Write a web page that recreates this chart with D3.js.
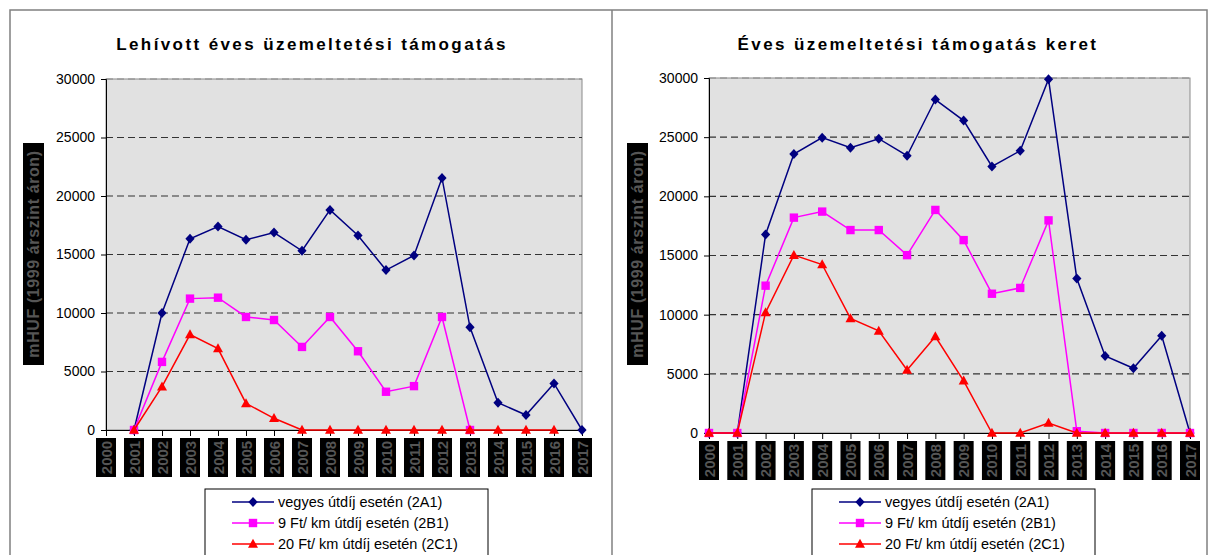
<!DOCTYPE html>
<html>
<head>
<meta charset="utf-8">
<script src="https://d3js.org/d3.v7.min.js"></script>
<style>
  body { margin: 0; background: #fff; }
  text { font-family: "Liberation Sans", Arial, sans-serif; }
</style>
</head>
<body>
<div id="chart"></div>
<script>
// years on the category axis
var years = ["2000","2001","2002","2003","2004","2005","2006","2007","2008",
             "2009","2010","2011","2012","2013","2014","2015","2016","2017"];
var yTicks = [0, 5000, 10000, 15000, 20000, 25000, 30000];

var seriesNames = ["vegyes útdíj esetén (2A1)",
                   "9 Ft/ km útdíj esetén (2B1)",
                   "20 Ft/ km útdíj esetén (2C1)"];

// left: Lehívott éves üzemeltetési támogatás
var leftVegyes = [null,0,10000,16340,17390,16260,16880,15320,18810,16620,13670,14920,21540,8780,2330,1280,3980,0];
var left9Ft    = [null,0,5820,11230,11310,9660,9400,7100,9660,6730,3270,3750,9660,0,null,null,null,null];
var left20Ft   = [null,0,3700,8160,6960,2270,1000,0,0,0,0,0,0,0,0,0,0,null];

// right: Éves üzemeltetési támogatás keret
var rightVegyes = [0,0,16780,23570,24960,24110,24870,23430,28180,26400,22530,23850,29900,13050,6510,5470,8210,0];
var right9Ft    = [0,0,12450,18200,18710,17150,17150,15030,18850,16300,11770,12260,17970,150,0,0,0,0];
var right20Ft   = [0,0,10190,15030,14240,9680,8630,5320,8150,4410,0,0,850,0,0,0,0,0];

var colors = ["#000080", "#FF00FF", "#FF0000"];
var markers = ["diamond", "square", "triangle"];

function start(){
    var svg = d3.select("#chart").append("svg")
        .attr("width", 1209)
        .attr("height", 555);

    // outer frame of the two panels
    svg.append("rect")
        .attr("x", 10).attr("y", 10)
        .attr("width", 1197).attr("height", 560)
        .attr("fill", "none")
        .attr("stroke", "#808080")
        .attr("stroke-width", 1.5);
    svg.append("line")
        .attr("x1", 612).attr("x2", 612)
        .attr("y1", 10).attr("y2", 555)
        .attr("stroke", "#808080")
        .attr("stroke-width", 1.5);

    drawChart(svg, {
        title: "Lehívott éves üzemeltetési támogatás",
        titleX: 312,
        left: 106, right: 582, top: 79, bottom: 430,
        yLabelX: 23,
        legendX: 205,
        data: [leftVegyes, left9Ft, left20Ft]
    });

    drawChart(svg, {
        title: "Éves üzemeltetési támogatás keret",
        titleX: 918,
        left: 709, right: 1190, top: 78, bottom: 433,
        yLabelX: 627,
        legendX: 812,
        data: [rightVegyes, right9Ft, right20Ft]
    });
}

function markerPath(kind){
    if (kind == "diamond") return "M0,-5L4.6,0L0,5L-4.6,0Z";
    if (kind == "square") return "M-4.2,-4.2L4.2,-4.2L4.2,4.2L-4.2,4.2Z";
    return "M0,-5.2L5,3.8L-5,3.8Z";
}

function drawChart(svg, cfg){
    var x = d3.scalePoint()
              .domain(years)
              .range([cfg.left, cfg.right]);
    var y = d3.scaleLinear()
              .domain([0, 30000])
              .range([cfg.bottom, cfg.top]);

    var g = svg.append("g");

    // plot area
    g.append("rect")
        .attr("x", cfg.left).attr("y", cfg.top)
        .attr("width", cfg.right - cfg.left)
        .attr("height", cfg.bottom - cfg.top)
        .attr("fill", "#e1e1e1")
        .attr("stroke", "#8a8a8a")
        .attr("stroke-width", 1);

    // dashed grid lines
    g.selectAll("grid")
        .data(yTicks.filter(d => d > 0))
        .enter()
        .append("line")
        .attr("x1", cfg.left).attr("x2", cfg.right)
        .attr("y1", d => y(d)).attr("y2", d => y(d))
        .attr("stroke", d => d == 30000 ? "#8a8a8a" : "#333")
        .attr("stroke-width", 1.2)
        .attr("stroke-dasharray", "7,4");

    // y axis
    var yAxis = g.append("g")
        .attr("transform", "translate(" + cfg.left + ",0)")
        .call(d3.axisLeft(y).tickValues(yTicks).tickSize(5).tickPadding(6).tickFormat(d3.format("d")));
    yAxis.select(".domain").attr("stroke", "#000");
    yAxis.selectAll("text")
        .style("font-size", "14px")
        .style("font-family", "Liberation Sans, Arial, sans-serif")
        .attr("fill", "#000");

    // x axis
    var xAxis = g.append("g")
        .attr("transform", "translate(0," + cfg.bottom + ")")
        .call(d3.axisBottom(x).tickSize(6).tickSizeOuter(0).tickFormat(""));
    xAxis.select(".domain").attr("stroke", "#000");

    // year labels in dark boxes
    var lab = g.selectAll("xlab")
        .data(years)
        .enter()
        .append("g")
        .attr("transform", d => "translate(" + x(d) + "," + (cfg.bottom + 8) + ")");
    lab.append("rect")
        .attr("x", -10).attr("y", 0)
        .attr("width", 20).attr("height", 39)
        .attr("fill", "#000");
    lab.append("text")
        .attr("transform", "translate(5.5,19.5) rotate(-90)")
        .attr("text-anchor", "middle")
        .attr("fill", "#555")
        .style("font-size", "15px")
        .style("font-weight", "bold")
        .text(d => d);

    // y label box
    var yl = g.append("g")
        .attr("transform", "translate(" + cfg.yLabelX + ",143)");
    yl.append("rect")
        .attr("width", 21).attr("height", 222)
        .attr("fill", "#000");
    yl.append("text")
        .attr("transform", "translate(16,111) rotate(-90)")
        .attr("text-anchor", "middle")
        .attr("fill", "#555")
        .style("font-size", "16px")
        .style("font-weight", "bold")
        .style("letter-spacing", "0.6px")
        .text("mHUF (1999 árszint áron)");

    // title
    g.append("text")
        .attr("x", cfg.titleX)
        .attr("y", 50)
        .attr("text-anchor", "middle")
        .style("font-size", "17px")
        .style("font-weight", "bold")
        .style("letter-spacing", "2.4px")
        .text(cfg.title);

    // lines and markers
    var line = d3.line()
        .defined(d => d != null)
        .x((d, i) => x(years[i]))
        .y(d => y(d));

    cfg.data.forEach(function(vals, s){
        g.append("path")
            .datum(vals)
            .attr("fill", "none")
            .attr("stroke", colors[s])
            .attr("stroke-width", 1.5)
            .attr("d", line);

        g.selectAll("pt" + s)
            .data(vals.map((v, i) => [years[i], v]).filter(d => d[1] != null))
            .enter()
            .append("path")
            .attr("transform", d => "translate(" + x(d[0]) + "," + y(d[1]) + ")")
            .attr("d", markerPath(markers[s]))
            .attr("fill", colors[s]);
    });

    // legend
    var leg = g.append("g")
        .attr("transform", "translate(" + cfg.legendX + ",489)");
    leg.append("rect")
        .attr("width", 283).attr("height", 90)
        .attr("fill", "#fff")
        .attr("stroke", "#000")
        .attr("stroke-width", 1);
    seriesNames.forEach(function(name, s){
        var row = leg.append("g")
            .attr("transform", "translate(0," + (13 + s * 21) + ")");
        row.append("line")
            .attr("x1", 27).attr("x2", 69)
            .attr("stroke", colors[s])
            .attr("stroke-width", 1.5);
        row.append("path")
            .attr("transform", "translate(48,0)")
            .attr("d", markerPath(markers[s]))
            .attr("fill", colors[s]);
        row.append("text")
            .attr("x", 73)
            .attr("y", 5)
            .style("font-size", "14.5px")
            .text(name);
    });
}

start()
</script>
</body>
</html>
